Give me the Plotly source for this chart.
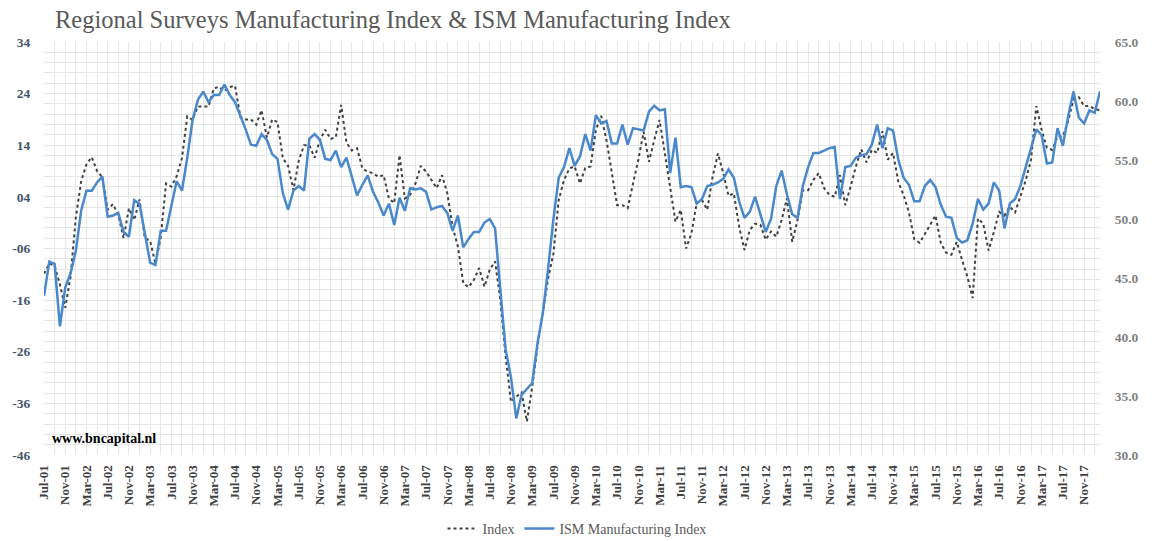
import pandas as pd
import plotly.graph_objects as go

# Monthly categories Jul-01 .. Feb-18
dates = pd.date_range("2001-07-01", "2018-02-01", freq="MS")
months = [d.strftime("%b-%y") for d in dates]

# Regional surveys manufacturing index (left axis)
index_vals = [
    -10.9, -8.9, -9.3, -13.0, -17.5, -11.5, 0.0, 7.0, 10.3, 11.7,
    9.0, 7.8, 1.5, 2.6, 0.5, -4.0, 1.8, -0.5, 3.5, -4.0,
    -4.5, -9.0, -3.8, 6.6, 6.0, 8.0, 11.5, 19.6, 18.9, 21.5,
    21.5, 21.5, 25.0, 25.3, 24.5, 25.3, 25.5, 19.5, 19.0, 19.0,
    18.0, 20.8, 15.5, 19.0, 18.5, 11.5, 10.0, 5.3, 11.0, 14.0,
    14.0, 11.6, 15.0, 17.0, 15.2, 15.6, 21.8, 14.5, 13.0, 13.4,
    9.5, 8.9, 8.6, 7.9, 8.2, 3.7, 2.8, 12.1, 3.7, 4.4,
    6.6, 10.0, 8.9, 7.3, 5.7, 8.2, 4.7, -1.8, -5.6, -12.7,
    -13.5, -12.1, -9.8, -13.4, -10.1, -8.5, -16.0, -27.0, -35.7, -34.7,
    -33.9, -39.5, -32.8, -25.0, -18.6, -11.8, -7.0, 3.4, 7.3, 9.5,
    9.9, 6.6, 9.6, 9.9, 17.0, 19.7, 15.0, 8.6, 2.4, 2.4,
    1.8, 6.6, 11.2, 16.6, 10.8, 15.0, 18.9, 12.4, 5.5, -0.8,
    1.5, -6.0, -3.1, 2.8, 3.4, 1.5, 7.9, 12.4, 8.6, 4.2,
    4.7, -1.8, -6.3, -2.4, -1.2, -1.4, -4.3, -2.7, -3.7, -0.5,
    3.7, -4.7, -0.5, 5.3, 5.3, 7.3, 8.6, 5.7, 4.4, 4.0,
    8.2, 2.4, 6.0, 9.9, 13.2, 10.7, 13.1, 12.5, 16.7, 11.2,
    12.5, 6.9, 4.3, 1.0, -4.2, -4.9, -3.2, -1.3, 0.4, -4.9,
    -6.8, -7.2, -4.7, -8.2, -11.4, -15.6, -0.2, -1.2, -6.4, -2.8,
    1.1, 0.4, 2.1, 1.0, 4.0, 7.2, 11.2, 21.6, 17.0, 13.5,
    13.1, 15.7, 15.7, 18.7, 22.9, 23.3, 21.6, 21.6, 21.0, 20.8,
]

# ISM Manufacturing Index (right axis)
ism_vals = [
    43.5, 46.4, 46.2, 40.9, 44.2, 45.4, 47.3, 50.7, 52.4, 52.4,
    53.1, 53.6, 50.2, 50.3, 50.5, 48.9, 48.5, 51.6, 51.3, 48.9,
    46.3, 46.1, 49.0, 49.0, 51.1, 53.2, 52.4, 55.2, 58.4, 60.1,
    60.8, 59.9, 60.5, 60.5, 61.4, 60.5, 59.9, 58.8, 57.6, 56.3,
    56.2, 57.2, 56.7, 55.5, 55.1, 52.2, 50.8, 52.4, 52.8, 52.4,
    56.8, 57.2, 56.7, 55.1, 55.0, 55.8, 54.4, 55.2, 53.6, 52.0,
    52.9, 53.7, 52.3, 51.4, 50.3, 51.3, 49.5, 51.8, 50.7, 52.6,
    52.5, 52.6, 52.3, 50.8, 51.0, 51.1, 50.5, 49.0, 50.3, 47.6,
    48.3, 48.9, 48.9, 49.7, 50.0, 49.2, 44.0, 38.9, 36.6, 33.1,
    35.1, 35.6, 36.1, 39.5, 42.0, 45.8, 50.0, 53.5, 54.4, 56.0,
    54.5, 55.3, 57.2, 55.8, 58.8, 58.1, 58.3, 56.4, 56.4, 58.0,
    56.3, 57.7, 57.6, 57.5, 59.1, 59.6, 59.2, 59.3, 53.9, 56.9,
    52.7, 52.8, 52.7, 51.3, 51.7, 52.8, 52.9, 53.1, 53.4, 54.2,
    53.5, 51.5, 50.1, 50.6, 51.9, 50.4, 48.9, 50.0, 52.8, 54.1,
    52.1, 50.4, 50.1, 52.8, 54.4, 55.6, 55.6, 55.8, 56.0, 56.1,
    51.7, 54.4, 54.5, 55.2, 55.4, 55.5, 56.3, 58.0, 56.0, 57.7,
    57.5, 55.0, 53.5, 52.9, 51.5, 51.5, 52.8, 53.3, 52.7, 51.2,
    50.2, 50.1, 48.4, 48.0, 48.2, 49.6, 51.7, 50.8, 51.3, 53.1,
    52.4, 49.2, 51.3, 51.7, 52.8, 54.4, 56.0, 57.6, 57.1, 54.7,
    54.8, 57.7, 56.2, 58.7, 60.8, 58.6, 58.1, 59.2, 59.0, 60.8,
]

left_ticks = [-46, -36, -26, -16, -6, 4, 14, 24, 34]
left_tick_text = ["-46", "-36", "-26", "-16", "-06", "04", "14", "24", "34"]
right_ticks = [30, 35, 40, 45, 50, 55, 60, 65]
right_tick_text = ["30.0", "35.0", "40.0", "45.0", "50.0", "55.0", "60.0", "65.0"]

x = list(range(len(months)))
x_tickvals = x[::4]
x_ticktext = months[::4]

SERIF = "Liberation Serif"
GRID = "#e6e6e6"

fig = go.Figure()
fig.add_trace(go.Scatter(
    x=x, y=index_vals, name="Index", mode="lines",
    line=dict(color="#404040", width=2, dash="dot"),
    yaxis="y",
))
fig.add_trace(go.Scatter(
    x=x, y=ism_vals, name="ISM Manufacturing Index", mode="lines",
    line=dict(color="#4a88cc", width=2.5),
    yaxis="y2",
))

fig.update_layout(
    template="none",
    width=1154, height=541,
    margin=dict(l=44, r=54, t=42, b=86, autoexpand=False),
    paper_bgcolor="white", plot_bgcolor="white",
    title=dict(
        text="Regional Surveys Manufacturing Index & ISM Manufacturing Index",
        x=55 / 1154, xanchor="left", xref="container",
        y=1 - 19 / 541, yanchor="middle", yref="container",
        font=dict(family=SERIF, size=24.5, color="#595959"),
    ),
    xaxis=dict(
        range=[0, len(months) - 1],
        automargin=False,
        tickmode="array", tickvals=x_tickvals, ticktext=x_ticktext,
        tickangle=-90,
        tickfont=dict(family=SERIF, size=13, color="#404040", weight="bold"),
        showgrid=True, gridcolor=GRID, gridwidth=1,
        minor=dict(tickmode="linear", tick0=0, dtick=2, showgrid=True,
                   gridcolor=GRID, gridwidth=1),
        zeroline=False, showline=False,
        ticks="outside", ticklen=4, tickcolor="rgba(0,0,0,0)",
    ),
    yaxis=dict(
        range=[-46, 34],
        automargin=False,
        tickmode="array", tickvals=left_ticks, ticktext=left_tick_text,
        tickfont=dict(family=SERIF, size=13.5, color="#44546a", weight="bold"),
        showgrid=True, gridcolor=GRID, gridwidth=1,
        minor=dict(tickmode="linear", tick0=0, dtick=2, showgrid=True,
                   gridcolor=GRID, gridwidth=1),
        zeroline=False, showline=False,
        ticks="outside", ticklen=10, tickcolor="rgba(0,0,0,0)",
    ),
    yaxis2=dict(
        range=[30, 65], overlaying="y", side="right",
        automargin=False,
        tickmode="array", tickvals=right_ticks, ticktext=right_tick_text,
        tickfont=dict(family=SERIF, size=13.5, color="#7f7f7f", weight="bold"),
        showgrid=False, zeroline=False, showline=False,
        ticks="outside", ticklen=11, tickcolor="rgba(0,0,0,0)",
    ),
    showlegend=True,
    legend=dict(
        orientation="h", x=0.5, xanchor="center", xref="container",
        y=(541 - 529) / 541, yanchor="middle", yref="container",
        font=dict(family=SERIF, size=14, color="#595959"),
        bgcolor="rgba(0,0,0,0)",
    ),
    annotations=[dict(
        text="www.bncapital.nl", xref="paper", yref="paper",
        x=6 / 1056, y=(455 - 438) / 413, xanchor="left", yanchor="middle",
        showarrow=False,
        font=dict(family=SERIF, size=14, color="#000000", weight="bold"),
    )],
)

fig.write_html(
    "out.html",
    config={"displayModeBar": False},
    post_script="document.body.style.margin='0';",
)
